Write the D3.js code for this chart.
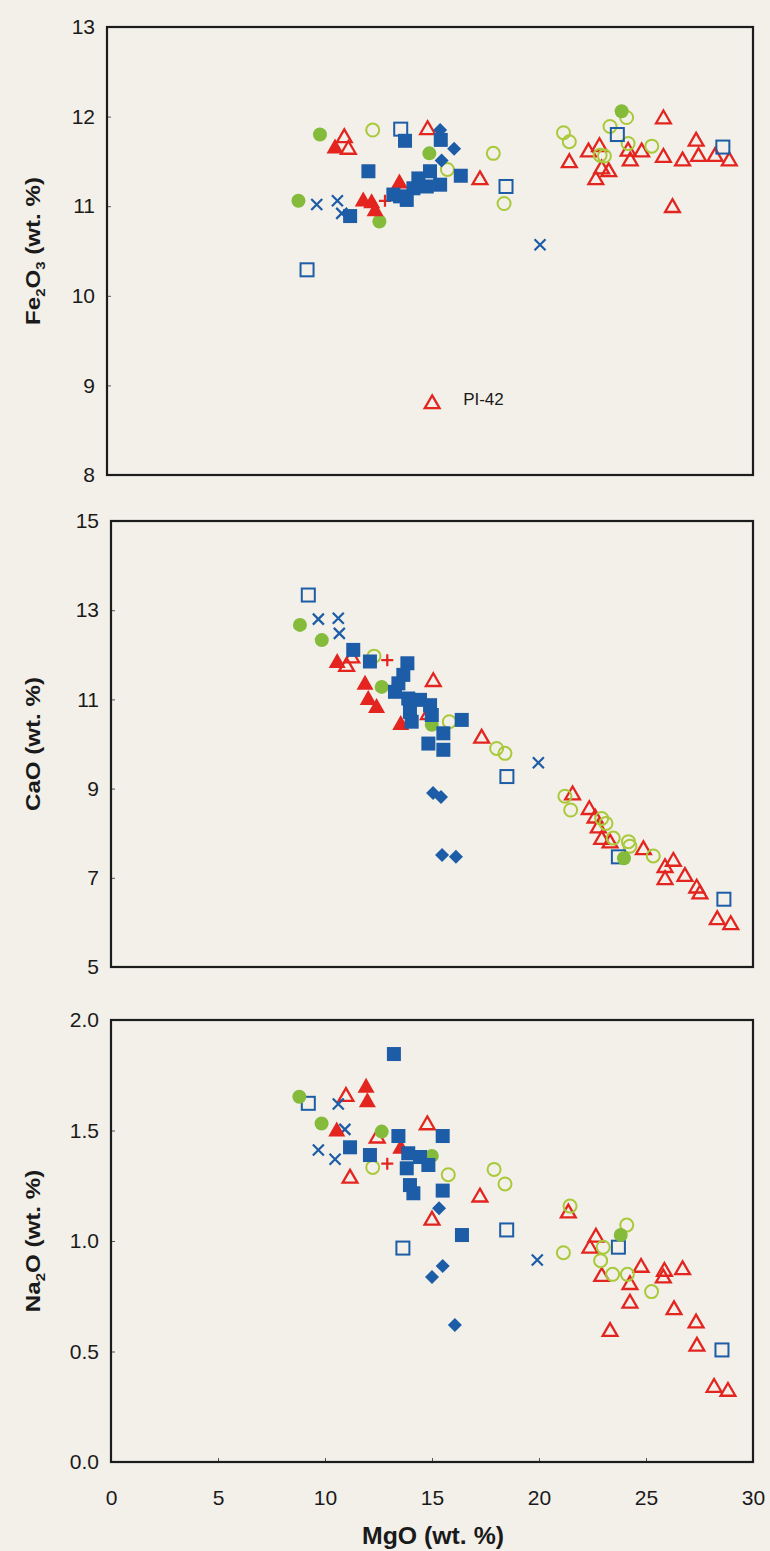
<!DOCTYPE html>
<html>
<head>
<meta charset="utf-8">
<script src="https://cdn.jsdelivr.net/npm/d3@7"></script>
<style>
  html, body { margin: 0; padding: 0; background: #f2f0e9; }
  svg { display: block; }
  text { font-family: "Liberation Sans", Arial, sans-serif; fill: #1a1a1a; }
</style>
</head>
<body>
<svg id="chart" width="770" height="1551"></svg>
<script>
// Symbol keys: bs = filled blue square, os = open blue square, bd = filled blue diamond,
// bx = blue cross, rt = filled red triangle, ot = open red triangle, rp = red plus,
// gc = filled green circle, oc = open yellow-green circle
const seriesKeys = ["ot", "oc", "os", "bx", "rp", "gc", "rt", "bs", "bd"];

// MgO vs Fe2O3 (wt. %)
const fe2o3Points = [
  ["bs", 13.84, 11.73], ["bs", 15.5, 11.74], ["bs", 12.14, 11.39], ["bs", 16.43, 11.34],
  ["bs", 14.46, 11.31], ["bs", 15.0, 11.39], ["bs", 14.85, 11.22], ["bs", 15.47, 11.24],
  ["bs", 14.23, 11.20], ["bs", 13.30, 11.13], ["bs", 13.92, 11.07], ["bs", 13.61, 11.11],
  ["bs", 11.29, 10.89],
  ["os", 13.64, 11.86], ["os", 18.53, 11.22], ["os", 23.7, 11.80], ["os", 28.6, 11.66], ["os", 9.29, 10.29],
  ["bd", 15.47, 11.85], ["bd", 16.12, 11.64], ["bd", 15.54, 11.51],
  ["bx", 9.74, 11.02], ["bx", 10.7, 11.06], ["bx", 10.9, 10.92], ["bx", 20.11, 10.57],
  ["rt", 10.59, 11.66], ["rt", 13.58, 11.27], ["rt", 11.9, 11.07], ["rt", 12.29, 11.05], ["rt", 12.45, 10.96],
  ["ot", 11.02, 11.78], ["ot", 11.21, 11.65], ["ot", 14.89, 11.87], ["ot", 17.32, 11.31],
  ["ot", 25.84, 11.99], ["ot", 21.47, 11.50], ["ot", 22.36, 11.62], ["ot", 22.87, 11.68],
  ["ot", 22.97, 11.43], ["ot", 23.3, 11.40], ["ot", 22.7, 11.31], ["ot", 24.3, 11.52],
  ["ot", 24.83, 11.62], ["ot", 25.84, 11.56], ["ot", 26.73, 11.52], ["ot", 27.47, 11.57],
  ["ot", 28.24, 11.57], ["ot", 28.9, 11.52], ["ot", 26.26, 11.00], ["ot", 27.36, 11.74],
  ["ot", 24.2, 11.63], ["ot", 15.1, 8.81],
  ["rp", 12.91, 11.06],
  ["gc", 9.89, 11.80], ["gc", 14.97, 11.59], ["gc", 8.89, 11.06], ["gc", 12.65, 10.83], ["gc", 23.9, 12.06],
  ["oc", 12.34, 11.85], ["oc", 15.81, 11.41], ["oc", 17.94, 11.59], ["oc", 18.44, 11.03],
  ["oc", 21.2, 11.82], ["oc", 21.47, 11.72], ["oc", 23.36, 11.89], ["oc", 24.13, 11.99],
  ["oc", 24.2, 11.70], ["oc", 25.3, 11.67], ["oc", 22.9, 11.57], ["oc", 23.1, 11.56]
];

// MgO vs CaO (wt. %)
const caoPoints = [
  ["bs", 11.32, 12.11], ["bs", 12.1, 11.85], ["bs", 13.85, 11.81], ["bs", 13.66, 11.55],
  ["bs", 13.43, 11.36], ["bs", 13.27, 11.17], ["bs", 13.89, 11.02], ["bs", 14.44, 10.99],
  ["bs", 14.91, 10.87], ["bs", 13.97, 10.72], ["bs", 14.99, 10.65], ["bs", 14.05, 10.50],
  ["bs", 16.39, 10.54], ["bs", 15.53, 10.24], ["bs", 14.83, 10.01], ["bs", 15.53, 9.87],
  ["os", 9.22, 13.34], ["os", 18.5, 9.27], ["os", 23.71, 7.47], ["os", 28.64, 6.52],
  ["bd", 15.05, 8.90], ["bd", 15.42, 8.81], ["bd", 15.47, 7.51], ["bd", 16.12, 7.47],
  ["bx", 9.69, 12.80], ["bx", 10.62, 12.82], ["bx", 10.67, 12.48], ["bx", 19.97, 9.58],
  ["rt", 10.57, 11.85], ["rt", 11.87, 11.36], ["rt", 12.02, 11.02], ["rt", 12.41, 10.84], ["rt", 13.54, 10.46],
  ["ot", 11.01, 11.77], ["ot", 11.25, 11.96], ["ot", 15.06, 11.43], ["ot", 14.83, 10.69],
  ["ot", 17.32, 10.16], ["ot", 21.57, 8.89], ["ot", 22.35, 8.56], ["ot", 22.62, 8.37],
  ["ot", 22.77, 8.15], ["ot", 22.93, 7.89], ["ot", 23.32, 7.81], ["ot", 24.88, 7.66],
  ["ot", 25.89, 7.26], ["ot", 26.28, 7.40], ["ot", 25.89, 6.99], ["ot", 26.82, 7.06],
  ["ot", 27.37, 6.80], ["ot", 27.52, 6.67], ["ot", 28.33, 6.09], ["ot", 28.96, 5.98],
  ["rp", 12.91, 11.88],
  ["gc", 8.83, 12.67], ["gc", 9.85, 12.33], ["gc", 12.65, 11.28], ["gc", 14.99, 10.43], ["gc", 23.97, 7.44],
  ["oc", 12.29, 11.97], ["oc", 15.81, 10.50], ["oc", 18.02, 9.90], ["oc", 18.41, 9.79],
  ["oc", 21.21, 8.83], ["oc", 21.48, 8.52], ["oc", 22.93, 8.33], ["oc", 23.13, 8.22],
  ["oc", 23.47, 7.89], ["oc", 24.18, 7.81], ["oc", 24.25, 7.71], ["oc", 25.34, 7.49]
];

// MgO vs Na2O (wt. %)
const na2oPoints = [
  ["bs", 13.22, 1.846], ["bs", 13.43, 1.475], ["bs", 15.5, 1.475], ["bs", 11.17, 1.424],
  ["bs", 12.1, 1.389], ["bs", 13.89, 1.397], ["bs", 14.44, 1.38], ["bs", 14.83, 1.344],
  ["bs", 13.82, 1.329], ["bs", 13.97, 1.253], ["bs", 14.13, 1.216], ["bs", 15.5, 1.228],
  ["bs", 16.4, 1.027],
  ["os", 9.22, 1.623], ["os", 13.64, 0.968], ["os", 18.49, 1.05], ["os", 23.71, 0.972], ["os", 28.55, 0.507],
  ["bd", 15.33, 1.148], ["bd", 15.0, 0.837], ["bd", 15.5, 0.887], ["bd", 16.07, 0.62],
  ["bx", 10.62, 1.62], ["bx", 10.93, 1.505], ["bx", 9.69, 1.412], ["bx", 10.47, 1.37], ["bx", 19.92, 0.914],
  ["rt", 11.92, 1.70], ["rt", 11.98, 1.635], ["rt", 10.55, 1.502], ["rt", 13.54, 1.424],
  ["ot", 10.98, 1.66], ["ot", 12.44, 1.472], ["ot", 14.78, 1.532], ["ot", 11.17, 1.29],
  ["ot", 17.24, 1.205], ["ot", 21.37, 1.133], ["ot", 22.66, 1.023], ["ot", 22.38, 0.974],
  ["ot", 22.93, 0.846], ["ot", 24.25, 0.809], ["ot", 24.77, 0.887], ["ot", 25.86, 0.869],
  ["ot", 25.81, 0.839], ["ot", 26.71, 0.876], ["ot", 24.25, 0.725], ["ot", 26.31, 0.695],
  ["ot", 27.34, 0.635], ["ot", 23.32, 0.597], ["ot", 27.38, 0.53], ["ot", 28.18, 0.344],
  ["ot", 28.83, 0.326], ["ot", 15.0, 1.10],
  ["rp", 12.91, 1.35],
  ["gc", 8.80, 1.653], ["gc", 9.84, 1.532], ["gc", 12.65, 1.495], ["gc", 14.99, 1.385], ["gc", 23.82, 1.027],
  ["oc", 12.23, 1.333], ["oc", 15.76, 1.30], ["oc", 17.9, 1.324], ["oc", 18.41, 1.258],
  ["oc", 21.45, 1.158], ["oc", 21.14, 0.947], ["oc", 24.1, 1.072], ["oc", 23.0, 0.972],
  ["oc", 22.88, 0.911], ["oc", 23.44, 0.849], ["oc", 24.13, 0.849], ["oc", 25.26, 0.771]
];

const mgoTicks = [0, 5, 10, 15, 20, 25, 30];
const fe2o3Ticks = [8, 9, 10, 11, 12, 13];
const caoTicks = [5, 7, 9, 11, 13, 15];
const na2oTicks = [0, 0.5, 1.0, 1.5, 2.0];

const BLUE = "#1d5ca6", RED = "#e3241f", GREEN = "#84bb3a", LIME = "#a9c93a";
const FONT = '"Liberation Sans", Arial, sans-serif';

const svg = d3.select("#chart");

const panels = [
  { data: fe2o3Points, ticks: fe2o3Ticks, fmt: d3.format("d"), domain: [8, 13],
    left: 107, right: 753, top: 27, bottom: 475,
    title: [["Fe", 0], ["2", 1], ["O", 0], ["3", 1], [" (wt. %)", 0]], label: "PI-42" },
  { data: caoPoints, ticks: caoTicks, fmt: d3.format("d"), domain: [5, 15],
    left: 111, right: 753, top: 521, bottom: 967,
    title: [["CaO (wt. %)", 0]] },
  { data: na2oPoints, ticks: na2oTicks, fmt: d3.format(".1f"), domain: [0, 2],
    left: 111, right: 753, top: 1020, bottom: 1462,
    title: [["Na", 0], ["2", 1], ["O (wt. %)", 0]], xAxis: true }
];

function drawMarker(g, key, cx, cy) {
  const m = g.append("g").attr("transform", `translate(${cx},${cy})`);
  switch (key) {
    case "bs":
      m.append("rect").attr("x", -7).attr("y", -7).attr("width", 14).attr("height", 14).attr("fill", BLUE);
      break;
    case "os":
      m.append("rect").attr("x", -6.5).attr("y", -6.5).attr("width", 13).attr("height", 13)
        .attr("fill", "none").attr("stroke", BLUE).attr("stroke-width", 2);
      break;
    case "bd":
      m.append("path").attr("d", "M0,-7L7,0L0,7L-7,0Z").attr("fill", BLUE);
      break;
    case "bx":
      m.append("path").attr("d", "M-5.5,-5.5L5.5,5.5M-5.5,5.5L5.5,-5.5")
        .attr("stroke", BLUE).attr("stroke-width", 2.2).attr("fill", "none");
      break;
    case "rt":
      m.append("path").attr("d", "M0,-8.5L8.5,6.5L-8.5,6.5Z").attr("fill", RED);
      break;
    case "ot":
      m.append("path").attr("d", "M0,-7L7.4,5.8L-7.4,5.8Z")
        .attr("fill", "none").attr("stroke", RED).attr("stroke-width", 2.3).attr("stroke-linejoin", "miter");
      break;
    case "rp":
      m.append("path").attr("d", "M-6,0L6,0M0,-6L0,6")
        .attr("stroke", RED).attr("stroke-width", 2.2).attr("fill", "none");
      break;
    case "gc":
      m.append("circle").attr("r", 7).attr("fill", GREEN);
      break;
    case "oc":
      m.append("circle").attr("r", 6.5).attr("fill", "none").attr("stroke", LIME).attr("stroke-width", 2);
      break;
  }
}

panels.forEach(p => {
  const x = d3.scaleLinear().domain([0, 30]).range([p.left, p.right]);
  const y = d3.scaleLinear().domain(p.domain).range([p.bottom, p.top]);
  const g = svg.append("g");

  // y axis: tick labels plus short inward ticks
  const yAxis = d3.axisLeft(y).tickValues(p.ticks).tickFormat(p.fmt).tickSize(-4).tickPadding(12);
  const ya = g.append("g").attr("transform", `translate(${p.left},0)`).call(yAxis);
  ya.select(".domain").remove();
  ya.selectAll(".tick line").attr("stroke", "#555").attr("stroke-width", 1);
  ya.selectAll(".tick text").attr("font-size", 21).attr("fill", "#1a1a1a").style("font-family", FONT);

  if (p.xAxis) {
    const xAxis = d3.axisBottom(x).tickValues(mgoTicks).tickFormat(d3.format("d")).tickSize(-4).tickPadding(28);
    const xa = g.append("g").attr("transform", `translate(0,${p.bottom})`).call(xAxis);
    xa.select(".domain").remove();
    xa.selectAll(".tick line").attr("stroke", "#555").attr("stroke-width", 1);
    xa.selectAll(".tick text").attr("font-size", 21).attr("fill", "#1a1a1a").style("font-family", FONT);
  }

  // markers, one symbol family at a time
  const mg = g.append("g");
  seriesKeys.forEach(key => {
    p.data.filter(d => d[0] === key).forEach(d => drawMarker(mg, key, x(d[1]), y(d[2])));
  });

  // plot frame
  g.append("rect")
    .attr("x", p.left).attr("y", p.top)
    .attr("width", p.right - p.left).attr("height", p.bottom - p.top)
    .attr("fill", "none").attr("stroke", "#1c1c1c").attr("stroke-width", 2.2);

  // rotated y title with subscripts
  const cy = (p.top + p.bottom) / 2;
  const t = g.append("text")
    .attr("transform", `translate(40,${cy}) rotate(-90) scale(1.15,1)`)
    .attr("text-anchor", "middle")
    .attr("font-size", 21).attr("font-weight", "bold");
  let sub = false;
  p.title.forEach(([s, isSub]) => {
    const ts = t.append("tspan").text(s);
    if (isSub && !sub) { ts.attr("dy", 5).attr("font-size", 13); sub = true; }
    else if (isSub && sub) { ts.attr("font-size", 13); }
    else if (!isSub && sub) { ts.attr("dy", -5); sub = false; }
  });

  if (p.label) {
    const pi = p.data.find(d => d[2] < 9);
    g.append("text").attr("x", x(pi[1]) + 31).attr("y", y(pi[2]) + 3)
      .attr("font-size", 17).text(p.label);
  }
});

// shared x title
svg.append("text").attr("transform", "translate(433,1544) scale(1.08,1)").attr("text-anchor", "middle")
  .attr("font-size", 23).attr("font-weight", "bold").text("MgO (wt. %)");
</script>
</body>
</html>
